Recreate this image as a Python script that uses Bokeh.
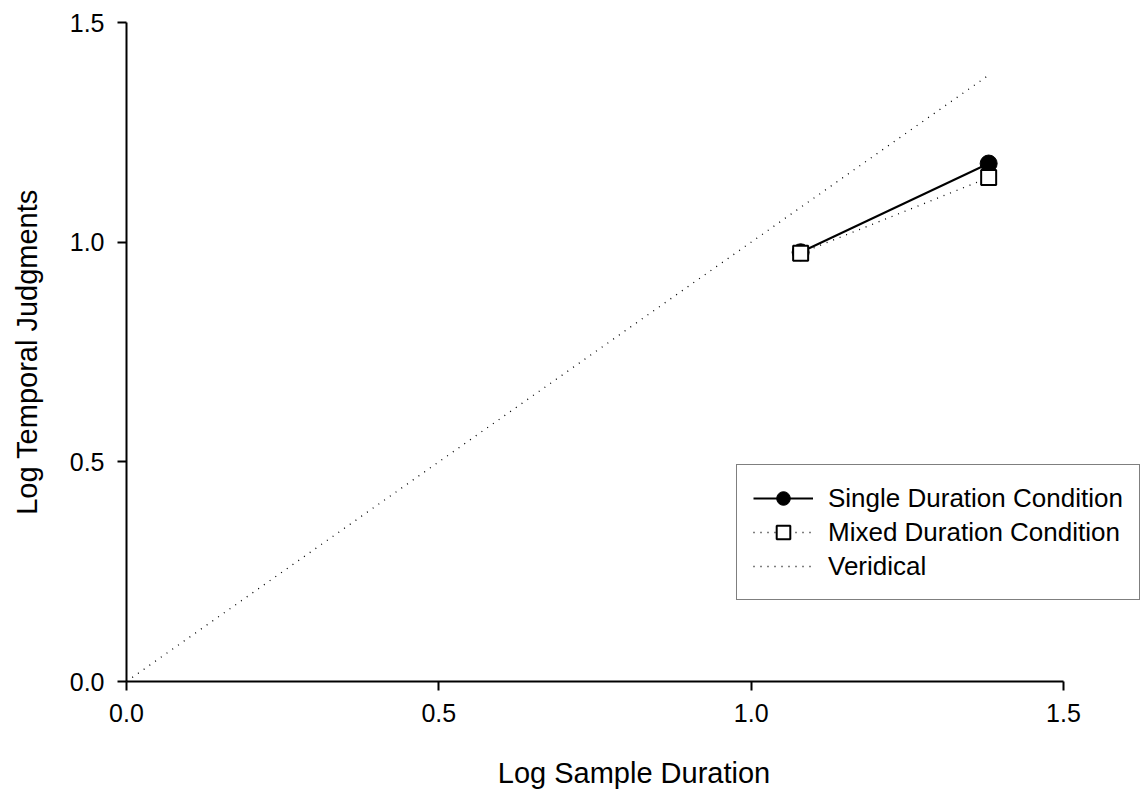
from bokeh.plotting import figure
from bokeh.models import Range1d, FixedTicker, Legend, LegendItem, NumeralTickFormatter
from bokeh.embed import file_html
from bokeh.resources import INLINE

# Data (log10 of durations)
sample_x = [1.0792, 1.3802]
single_y = [0.977, 1.179]
mixed_y = [0.975, 1.147]
veridical_x = [0.0, 1.3802]
veridical_y = [0.0, 1.3802]
ticks = [0.0, 0.5, 1.0, 1.5]

FONT = "Liberation Sans"

W, H = 1141, 793
LEFT, TOP, BOTTOM = 126, 22, 112
axis_px = 937  # pixels spanning 0..1.5 on x
x_end = ticks[-1] * (W - LEFT) / axis_px

p = figure(width=W, height=H, output_backend="svg", toolbar_location=None,
           x_range=Range1d(0, x_end), y_range=Range1d(0, 1.5),
           min_border_left=LEFT, min_border_right=0, min_border_top=TOP, min_border_bottom=BOTTOM)
p.outline_line_color = None
p.xgrid.visible = False
p.ygrid.visible = False
p.background_fill_color = "white"
p.border_fill_color = "white"

for ax in (p.xaxis[0], p.yaxis[0]):
    ax.ticker = FixedTicker(ticks=ticks)
    ax.formatter = NumeralTickFormatter(format="0.0")
    ax.axis_line_width = 2
    ax.axis_line_color = "black"
    ax.major_tick_line_width = 2
    ax.major_tick_line_color = "black"
    ax.major_tick_out = 9
    ax.major_tick_in = 0
    ax.minor_tick_out = 0
    ax.minor_tick_in = 0
    ax.major_label_text_font = FONT
    ax.major_label_text_font_size = "25px"
    ax.major_label_text_color = "black"
    ax.major_label_standoff = 13
    ax.axis_label_text_font = FONT
    ax.axis_label_text_font_size = "29px"
    ax.axis_label_text_font_style = "normal"
    ax.axis_label_text_color = "black"

p.xaxis.bounds = (ticks[0], ticks[-1])
p.xaxis.axis_label = "Log Sample Duration"
p.yaxis.axis_label = "Log Temporal Judgments"
p.xaxis.axis_label_standoff = 32
p.yaxis.axis_label_standoff = 24

ver = p.line(veridical_x, veridical_y, line_color="black", line_width=1.3, line_dash="1 6")

s_line = p.line(sample_x, single_y, line_color="black", line_width=2)
s_pts = p.scatter(sample_x, single_y, marker="circle", size=17, fill_color="black", line_color="black")

m_line = p.line(sample_x, mixed_y, line_color="black", line_width=1.3, line_dash="1 6")
m_pts = p.scatter(sample_x, mixed_y, marker="square", size=15, fill_color="white",
                  line_color="black", line_width=2)

legend = Legend(items=[
    LegendItem(label="Single Duration Condition", renderers=[s_line, s_pts]),
    LegendItem(label="Mixed Duration Condition", renderers=[m_line, m_pts]),
    LegendItem(label="Veridical", renderers=[ver]),
], location=(610, 81))
legend.label_text_font = FONT
legend.label_text_font_size = "26px"
legend.label_text_color = "black"
legend.glyph_width = 60
legend.glyph_height = 34
legend.label_height = 34
legend.label_standoff = 15
legend.spacing = 0
legend.padding = 16
legend.margin = 0
legend.border_line_color = "black"
legend.border_line_width = 1.5
legend.background_fill_color = "white"
legend.background_fill_alpha = 1
p.add_layout(legend, "center")

open("out.html", "w").write(file_html(p, INLINE))
